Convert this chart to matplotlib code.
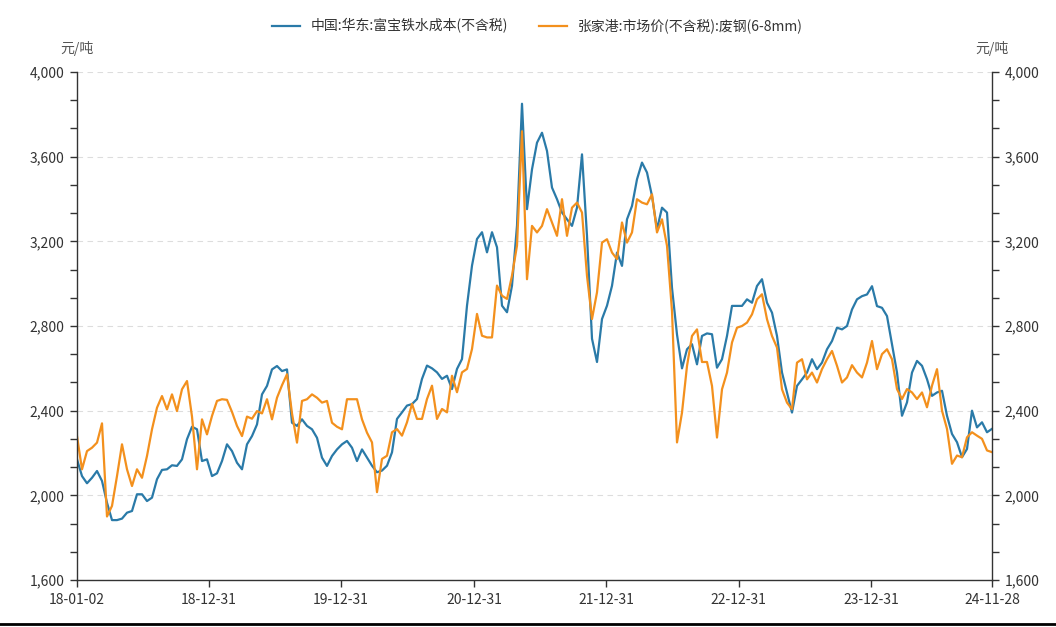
import numpy as np
import pandas as pd
import matplotlib
matplotlib.use('Agg')
import matplotlib.pyplot as plt
from matplotlib.ticker import FuncFormatter, MultipleLocator, FixedLocator
from matplotlib.lines import Line2D

plt.rcParams['font.family'] = ['Noto Sans CJK SC', 'DejaVu Sans']

start_date = '2018-01-02'
end_date = '2024-11-28'
tick_dates = ['2018-01-02', '2018-12-31', '2019-12-31', '2020-12-31',
              '2021-12-31', '2022-12-31', '2023-12-31', '2024-11-28']
tick_labels = ['18-01-02', '18-12-31', '19-12-31', '20-12-31',
               '21-12-31', '22-12-31', '23-12-31', '24-11-28']

name_cost = '中国:华东:富宝铁水成本(不含税)'
name_scrap = '张家港:市场价(不含税):废钢(6-8mm)'

# 元/吨 (roughly every two weeks)
cost_east = [
    2170, 2091, 2057, 2083, 2115, 2068, 1965, 1883, 1883, 1890, 1918, 1926, 2005, 2005, 1973,
    1989, 2076, 2120, 2123, 2142, 2139, 2170, 2265, 2324, 2312, 2162, 2170, 2091, 2104,
    2162, 2241, 2209, 2154, 2123, 2241, 2280, 2335, 2477, 2517, 2595, 2611, 2587, 2595, 2343,
    2328, 2359, 2328, 2312, 2272, 2178, 2139, 2186, 2217, 2241, 2257, 2225, 2162, 2217, 2178,
    2140, 2109, 2117, 2140, 2203, 2361, 2392, 2424, 2431, 2455, 2550, 2613, 2600, 2581, 2550,
    2565, 2502, 2597, 2644, 2896, 3085, 3211, 3243, 3148, 3243, 3172, 2896, 2865, 2991, 3274,
    3850, 3352, 3540, 3666, 3713, 3627, 3454, 3399, 3336, 3304, 3273, 3359, 3611, 3226, 2740,
    2630, 2833, 2896, 2990, 3147, 3084, 3304, 3367, 3493, 3572, 3525, 3414, 3257, 3359, 3336,
    2980, 2760,
    2600, 2690, 2714, 2619, 2753, 2765, 2761, 2603, 2643, 2753, 2895, 2895, 2895, 2926, 2910,
    2989, 3021, 2910, 2863, 2753, 2580, 2485, 2391, 2517, 2548, 2580, 2643, 2596, 2627, 2690,
    2729, 2792, 2784, 2800, 2878, 2926, 2941, 2949, 2988, 2894, 2886, 2847, 2714, 2580, 2376,
    2439, 2580, 2635, 2612, 2549, 2470, 2486, 2494, 2376, 2290, 2251, 2180, 2219, 2400, 2321,
    2345, 2298, 2314,
]

scrap_zjg = [
    2280, 2123, 2209, 2225, 2249, 2340, 1900, 1950, 2091, 2241, 2123, 2044, 2123, 2083, 2186,
    2312, 2414, 2469, 2406, 2477, 2398, 2501, 2540, 2372, 2123, 2359, 2288, 2375, 2446,
    2454, 2451, 2394, 2328, 2280, 2372, 2362, 2398, 2387, 2454, 2359, 2461, 2520, 2572, 2387,
    2249, 2446, 2454, 2477, 2461, 2438, 2446, 2343, 2324, 2312, 2454, 2454, 2454, 2359, 2296,
    2250, 2015, 2172, 2187, 2298, 2313, 2282, 2345, 2432, 2361, 2361, 2455, 2518, 2361, 2408,
    2392, 2565, 2487, 2581, 2597, 2691, 2857, 2754, 2746, 2746, 2991, 2943, 2928, 3038, 3180,
    3720, 3021, 3273, 3242, 3273, 3352, 3289, 3226, 3399, 3226, 3359, 3383, 3336, 3037, 2833,
    2959, 3194, 3210, 3147, 3116, 3289, 3194, 3242, 3399, 3383, 3375, 3422, 3242, 3304, 3179,
    2870, 2250,
    2391, 2611, 2753, 2784, 2630, 2630, 2517, 2273, 2501, 2580, 2722, 2792, 2800, 2816, 2855,
    2926, 2950, 2832, 2753, 2698, 2501, 2438, 2407, 2627, 2643, 2548, 2580, 2533, 2596, 2643,
    2682, 2612, 2533, 2557, 2615, 2580, 2557, 2627, 2729, 2596, 2667, 2690, 2643, 2502, 2455,
    2502, 2486, 2455, 2486, 2416, 2518, 2596, 2400, 2314, 2149, 2188, 2180, 2274, 2298, 2282,
    2267, 2212, 2204,
]

dates = pd.date_range(start_date, end_date, periods=len(cost_east))

blue = '#2a7aa8'
orange = '#f3901d'
axis_col = '#333333'

W, H = 1056, 627
fig = plt.figure(figsize=(W / 100, H / 100), dpi=100)
ax = fig.add_axes([77 / W, 1 - 580 / H, (992 - 77) / W, (580 - 72) / H])

ax.plot(dates, cost_east, color=blue, lw=1.6, label=name_cost)
ax.plot(dates, scrap_zjg, color=orange, lw=1.6, label=name_scrap)

ax.set_xlim(pd.Timestamp(start_date), pd.Timestamp(end_date))
ax.set_ylim(1600, 4000)
ax.yaxis.set_major_locator(FixedLocator(np.arange(1600, 4001, 400)))
ax.yaxis.set_minor_locator(MultipleLocator(400 / 3))
ax.yaxis.set_major_formatter(FuncFormatter(lambda v, p: f'{v:,.0f}'))
ax.set_xticks(pd.to_datetime(tick_dates))
ax.set_xticklabels(tick_labels)

ax.grid(axis='y', which='major', ls=(0, (5, 4)), color='#dddddd', lw=0.8)
ax.spines['top'].set_visible(False)
for s in ['left', 'right', 'bottom']:
    ax.spines[s].set_color(axis_col)
    ax.spines[s].set_linewidth(1.0)

ax.tick_params(axis='y', which='both', left=True, right=True, labelleft=True, labelright=True,
               direction='out', length=5, width=1, color=axis_col, labelsize=10,
               labelcolor='#333333', pad=4)
ax.tick_params(axis='x', direction='out', length=5, width=1, color=axis_col,
               labelsize=10, labelcolor='#333333', pad=4)

fig.text(77 / W, 1 - 49 / H, '元/吨', ha='center', va='center', fontsize=10, color='#555555')
fig.text(992 / W, 1 - 49 / H, '元/吨', ha='center', va='center', fontsize=10, color='#555555')

fig.legend(loc='upper center', bbox_to_anchor=(0.509, 1 - 6 / H), ncol=2, frameon=False,
           fontsize=10, handlelength=2.0, columnspacing=2.2, labelcolor='#333333')

fig.add_artist(Line2D([0, 1], [0.004, 0.004], transform=fig.transFigure, color='black', lw=2))

fig.savefig('out.png', dpi=100)
